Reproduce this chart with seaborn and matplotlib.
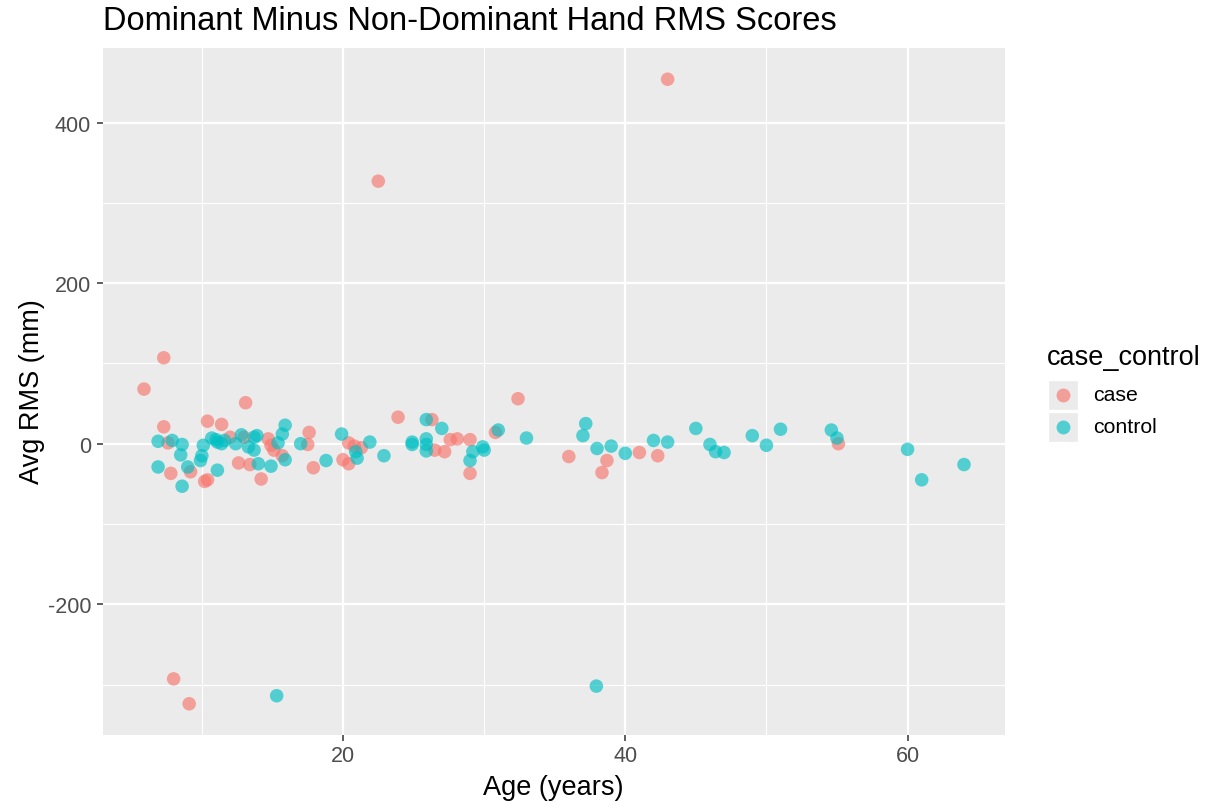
import numpy as np
import pandas as pd
import matplotlib
matplotlib.use("Agg")
import matplotlib.pyplot as plt
from matplotlib.patches import Rectangle
from matplotlib.lines import Line2D
import seaborn as sns

# Age (years) and dominant minus non-dominant RMS (mm) per group
case_age = [5.9, 7.3, 7.3, 7.6, 7.8, 8.0, 9.1, 9.2, 10.2, 10.4, 10.4, 11.4, 12.0,
            12.6, 13.0, 13.1, 13.4, 14.2, 14.7, 14.9, 15.1, 15.7, 17.5, 17.6, 17.9,
            20.0, 20.4, 20.4, 20.8, 21.3, 22.5, 23.9, 26.3, 26.5, 27.2, 27.6, 28.1,
            29.0, 29.0, 30.8, 32.4, 36.0, 38.35, 38.7, 41.0, 42.3, 43.0, 55.1]
case_rms = [68, 107, 21, 1, -37, -293, -324, -35, -47, -45, 28, 24, 8,
            -24, 8, 51, -26, -44, 6, -2, -8, -15, -1, 14, -30,
            -20, -25, 1, -3, -5, 327, 33, 30, -8, -10, 5, 6,
            5, -37, 14, 56, -16, -36, -21, -11, -15, 454, 0]

control_age = [6.9, 6.9, 7.9, 8.5, 8.6, 8.6, 9.0, 9.9, 10.0, 10.1, 10.7, 11.0, 11.1,
               11.1, 11.4, 11.6, 12.4, 12.8, 13.3, 13.7, 13.7, 13.9, 14.0, 14.9,
               15.4, 15.7, 15.9, 15.9, 15.3, 17.0, 18.8, 19.9, 20.9, 21.0, 21.9,
               22.9, 24.9, 24.9, 25.9, 25.9, 25.9, 25.9, 27.0, 29.2, 29.0, 29.9,
               30.0, 31.0, 33.0, 37.0, 37.2, 38.0, 37.95, 39.0, 40.0, 42.0, 43.0,
               45.0, 46.0, 46.4, 47.0, 49.0, 50.0, 51.0, 54.6, 55.0, 60.0, 61.0, 64.0]
control_rms = [3, -29, 4, -14, -1, -53, -29, -21, -15, -2, 7, 5, -33,
               2, 0, 4, 0, 11, -4, -8, 8, 10, -25, -28,
               1, 12, 23, -20, -314, 0, -21, 12, -10, -18, 2,
               -15, 2, -1, 30, 6, -1, -9, 19, -10, -21, -4,
               -8, 17, 7, 10, 25, -6, -302, -3, -12, 4, 2,
               19, -1, -10, -11, 10, -2, 18, 17, 7, -7, -45, -26]

groups = ["case", "control"]
palette = {"case": "#F8766D", "control": "#00BFC4"}
x_ticks = [20, 40, 60]
y_ticks = [-200, 0, 200, 400]

df = pd.DataFrame({
    "age": case_age + control_age,
    "rms": case_rms + control_rms,
    "case_control": ["case"] * len(case_age) + ["control"] * len(control_age),
})

plt.rcParams["font.family"] = ["Liberation Sans", "DejaVu Sans"]
plt.rcParams["axes.unicode_minus"] = False

fig = plt.figure(figsize=(12.08, 8.03), dpi=100)
W, H = 1208, 803
left, right, top, bottom = 103, 1005, 49, 736
ax = fig.add_axes([left / W, 1 - bottom / H, (right - left) / W, (bottom - top) / H])
ax.set_facecolor("#EBEBEB")

sns.scatterplot(data=df, x="age", y="rms", hue="case_control", hue_order=groups,
                palette=palette, alpha=0.65, s=95, linewidth=0, legend=False,
                ax=ax, zorder=3)

# ggplot-style limits with 5% expansion
xmin, xmax = min(df.age), max(df.age)
ymin, ymax = min(df.rms), max(df.rms)
xr, yr = xmax - xmin, ymax - ymin
ax.set_xlim(xmin - 0.05 * xr, xmax + 0.05 * xr)
ax.set_ylim(ymin - 0.05 * yr, ymax + 0.05 * yr)

ax.set_xticks(x_ticks)
ax.set_yticks(y_ticks)
for v in [10, 30, 50]:
    ax.axvline(v, color="white", lw=0.8, zorder=1)
for v in [-300, -100, 100, 300]:
    ax.axhline(v, color="white", lw=0.8, zorder=1)
for v in x_ticks:
    ax.axvline(v, color="white", lw=1.6, zorder=1)
for v in y_ticks:
    ax.axhline(v, color="white", lw=1.6, zorder=1)

for s in ax.spines.values():
    s.set_visible(False)
ax.tick_params(axis="both", colors="#333333", length=4.3, width=1.1, labelsize=15.5,
               labelcolor="#4D4D4D")
ax.tick_params(axis="y", pad=4.3)
ax.tick_params(axis="x", pad=3)
ax.set_xlabel("")
ax.set_ylabel("")
fig.text(553 / W, 1 - 788 / H, "Age (years)", fontsize=19.5, ha="center", va="center")
fig.text(32 / W, 1 - 392 / H, "Avg RMS (mm)", fontsize=19.5, ha="center",
         va="center", rotation=90)
fig.text(left / W, 1 - 22 / H, "Dominant Minus Non-Dominant Hand RMS Scores",
         fontsize=23.5, ha="left", va="center", color="black")

# Legend
fig.text(1047 / W, 1 - 358 / H, "case_control", fontsize=19.5, ha="left", va="center")
for i, g in enumerate(groups):
    cy = 396 + i * 32
    fig.patches.append(Rectangle((1048 / W, 1 - (cy + 15) / H), 30 / W, 30 / H,
                                 transform=fig.transFigure, facecolor="#EBEBEB",
                                 edgecolor="white", lw=1.0, zorder=1))
    fig.add_artist(Line2D([1063 / W], [1 - cy / H], marker="o", markersize=10,
                          color=palette[g], alpha=0.65, markeredgewidth=0,
                          transform=fig.transFigure, zorder=2))
    fig.text(1093 / W, 1 - cy / H, g, fontsize=15.3, ha="left", va="center")

fig.savefig("out.png", dpi=100)
